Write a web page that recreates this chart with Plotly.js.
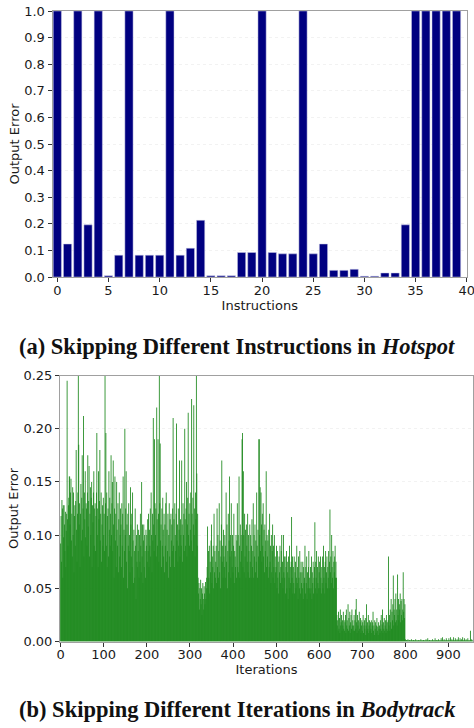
<!DOCTYPE html>
<html>
<head>
<meta charset="utf-8">
<script src="https://cdn.plot.ly/plotly-3.0.1.min.js"></script>
<style>html,body{margin:0;padding:0;background:#fff;}#chart{width:474px;height:728px;}</style>
</head>
<body>
<div id="chart"></div>
<script>
// (a) Hotspot: output error when skipping instruction i
const instructionIds = Array.from({length: 40}, (_, i) => i);
const hotspotError = [
  1.0, 0.124, 1.0, 0.196, 1.0, 0.005, 0.082, 1.0, 0.082, 0.082,
  0.082, 1.0, 0.082, 0.108, 0.213, 0.005, 0.005, 0.005, 0.092, 0.092,
  1.0, 0.092, 0.087, 0.087, 1.0, 0.087, 0.124, 0.025, 0.025, 0.029,
  0.003, 0.003, 0.015, 0.015, 0.196, 1.0, 1.0, 1.0, 1.0, 1.0
];
const hotspotXTicks = [0, 5, 10, 15, 20, 25, 30, 35, 40];

// (b) Bodytrack: output error when skipping iteration i
const bodytrackError = [
  .092,.118,.075,.133,.125,.06,.128,.098,.128,.11,.085,.122,.07,.104,.12,.245,.115,.09,.128,.135,
  .155,.155,.11,.14,.153,.095,.12,.08,.145,.1,.14,.065,.118,.128,.09,.132,.18,.105,.075,.12,
  .14,.25,.185,.11,.13,.07,.12,.148,.095,.135,.175,.105,.125,.212,.08,.14,.115,.16,.098,.13,
  .125,.09,.14,.175,.108,.132,.165,.08,.12,.145,.1,.135,.15,.07,.128,.112,.14,.16,.09,.125,
  .13,.085,.118,.14,.196,.1,.125,.07,.16,.115,.132,.18,.095,.12,.14,.075,.11,.128,.09,.135,
  .1,.12,.085,.25,.13,.196,.09,.14,.07,.118,.125,.08,.16,.105,.135,.09,.12,.175,.1,.13,
  .15,.085,.17,.11,.06,.125,.155,.095,.12,.07,.15,.105,.09,.13,.065,.115,.14,.08,.1,.125,
  .11,.07,.13,.09,.12,.155,.06,.105,.085,.2,.1,.125,.16,.075,.11,.05,.12,.09,.13,.085,
  .1,.065,.145,.11,.08,.12,.07,.14,.095,.055,.105,.085,.06,.125,.09,.04,.1,.075,.11,.07,
  .085,.105,.06,.1,.075,.12,.09,.065,.15,.08,.11,.055,.095,.11,.07,.1,.085,.06,.105,.09,
  .1,.075,.115,.085,.12,.07,.105,.09,.125,.08,.14,.1,.065,.12,.095,.21,.11,.085,.19,.13,
  .1,.125,.08,.22,.115,.09,.19,.12,.075,.25,.13,.186,.095,.11,.07,.125,.09,.135,.105,.08,
  .12,.065,.11,.09,.13,.14,.075,.105,.085,.12,.06,.1,.13,.08,.115,.07,.12,.095,.11,.085,
  .125,.21,.09,.115,.07,.13,.1,.085,.12,.205,.095,.11,.075,.125,.09,.105,.17,.08,.115,.1,
  .09,.17,.11,.075,.13,.1,.12,.085,.2,.115,.09,.125,.15,.08,.11,.135,.215,.1,.12,.09,
  .13,.105,.14,.095,.228,.12,.085,.135,.11,.222,.1,.125,.08,.14,.115,.25,.158,.09,.12,.06,
  .045,.055,.03,.05,.04,.058,.035,.05,.025,.045,.055,.04,.03,.052,.045,.035,.056,.04,.05,.06,
  .07,.108,.05,.085,.06,.09,.045,.075,.065,.095,.11,.055,.08,.07,.09,.05,.12,.065,.085,.06,
  .075,.09,.055,.125,.07,.1,.06,.085,.13,.065,.095,.05,.08,.11,.17,.075,.09,.06,.105,.08,
  .07,.1,.06,.09,.14,.075,.11,.05,.085,.12,.065,.095,.155,.08,.1,.06,.13,.085,.07,.1,
  .065,.09,.12,.055,.085,.08,.07,.1,.06,.095,.13,.07,.1,.065,.155,.09,.06,.11,.075,.1,
  .085,.19,.196,.07,.16,.1,.065,.12,.08,.105,.06,.11,.09,.075,.12,.065,.1,.085,.06,.11,
  .075,.1,.06,.09,.115,.07,.085,.13,.06,.1,.08,.11,.065,.095,.075,.14,.09,.06,.105,.08,
  .19,.19,.1,.145,.085,.14,.11,.075,.12,.09,.13,.08,.105,.065,.11,.085,.095,.16,.07,.1,
  .08,.095,.06,.105,.07,.12,.075,.09,.055,.1,.065,.085,.11,.06,.09,.07,.1,.055,.08,.065,
  .07,.09,.05,.085,.06,.075,.045,.08,.065,.09,.055,.07,.085,.1,.06,.075,.05,.1,.065,.08,
  .06,.08,.045,.07,.085,.05,.075,.065,.04,.08,.06,.09,.05,.07,.055,.075,.117,.06,.08,.045,
  .07,.055,.08,.045,.065,.075,.05,.06,.09,.055,.07,.04,.08,.06,.05,.085,.065,.045,.075,.055,
  .065,.05,.075,.04,.07,.055,.06,.09,.045,.07,.055,.08,.04,.065,.05,.07,.085,.05,.06,.045,
  .07,.05,.08,.04,.065,.055,.075,.045,.06,.07,.112,.05,.075,.06,.085,.045,.07,.055,.08,.05,
  .065,.075,.05,.08,.06,.045,.07,.055,.08,.05,.09,.06,.07,.045,.075,.085,.055,.065,.08,.05,
  .07,.06,.085,.05,.075,.124,.065,.08,.055,.1,.07,.06,.085,.05,.075,.065,.08,.09,.06,.075,
  .06,.025,.015,.02,.01,.028,.012,.022,.008,.03,.015,.018,.025,.01,.02,.015,.028,.012,.02,.01,
  .018,.025,.008,.03,.015,.02,.012,.035,.01,.022,.015,.028,.008,.018,.025,.012,.03,.015,.02,.01,
  .015,.025,.01,.02,.03,.012,.04,.018,.008,.025,.015,.02,.01,.028,.012,.018,.022,.008,.015,.02,
  .01,.018,.025,.008,.015,.02,.012,.022,.006,.015,.035,.01,.018,.012,.025,.008,.015,.02,.01,.018,
  .012,.02,.008,.015,.018,.028,.01,.015,.006,.02,.012,.018,.008,.015,.022,.01,.014,.006,.018,.012,
  .015,.008,.02,.012,.025,.01,.016,.03,.008,.018,.012,.022,.01,.015,.02,.008,.025,.012,.018,.01,
  .02,.08,.015,.025,.01,.03,.018,.04,.012,.028,.02,.035,.062,.015,.03,.025,.04,.018,.045,.02,
  .03,.015,.063,.025,.04,.02,.035,.03,.045,.018,.038,.025,.04,.02,.03,.065,.028,.04,.022,.035,
  .002,.001,.001,.0015,.001,.001,.002,.001,.001,.001,.0015,.001,.001,.001,.002,.001,.001,.001,.001,.0015,
  .001,.001,.001,.001,.002,.001,.001,.001,.001,.001,.001,.0015,.001,.001,.001,.001,.002,.001,.001,.001,
  .001,.001,.0015,.001,.001,.001,.001,.001,.002,.001,.001,.001,.003,.001,.001,.001,.0015,.001,.001,.001,
  .001,.001,.001,.002,.001,.001,.001,.001,.001,.003,.001,.001,.001,.0015,.001,.001,.001,.002,.001,.001,
  .001,.001,.001,.003,.001,.001,.004,.001,.001,.001,.002,.001,.001,.001,.001,.003,.001,.001,.001,.001,
  .001,.003,.001,.001,.001,.004,.001,.001,.002,.001,.001,.001,.004,.001,.001,.001,.003,.001,.001,.001,
  .002,.001,.001,.004,.001,.001,.001,.003,.001,.001,.002,.001,.001,.004,.001,.001,.001,.003,.001,.001,
  .001,.002,.001,.001,.001,.003,.001,.001,.001,.001,.001,.01,.001,.001,.002,.001,.001
];
const iterationIds = bodytrackError.map((_, i) => i);
const bodytrackXTicks = [0, 100, 200, 300, 400, 500, 600, 700, 800, 900];

const captionA = '(a) Skipping Different Instructions in <i>Hotspot</i>';
const captionB = '(b) Skipping Different Iterations in <i>Bodytrack</i>';

const W = 474, H = 728;
const px = v => v / W;
const py = v => 1 - v / H;

const axisCommon = {
  showline: true, mirror: true, linecolor: '#a0a0a0', linewidth: 1,
  ticks: 'outside', ticklen: 4, tickwidth: 1, tickcolor: '#333',
  zeroline: false, ticklabeloverflow: 'allow',
  tickfont: {family: 'DejaVu Sans', size: 13, color: '#1a1a1a'}
};

const traces = [
  {
    type: 'bar', x: instructionIds, y: hotspotError, width: 0.8,
    marker: {color: '#000080', line: {color: '#c8c8e6', width: 0.5}},
    xaxis: 'x', yaxis: 'y', hoverinfo: 'x+y'
  },
  {
    type: 'bar', x: iterationIds, y: bodytrackError, width: 2.0,
    marker: {color: '#1f8a1f', line: {width: 0}},
    xaxis: 'x2', yaxis: 'y2', hoverinfo: 'x+y'
  }
];

const layout = {
  width: W, height: H,
  margin: {l: 0, r: 0, t: 0, b: 0},
  paper_bgcolor: '#fff', plot_bgcolor: '#fff',
  showlegend: false,
  barmode: 'overlay',
  font: {family: 'DejaVu Sans', size: 13, color: '#1a1a1a'},
  xaxis: Object.assign({}, axisCommon, {
    domain: [px(52.5), px(467)], anchor: 'y',
    range: [-0.47, 40.02], tickvals: hotspotXTicks, showgrid: false,
    ticklabelstandoff: -3,
    title: {text: 'Instructions', font: {size: 13}, standoff: 0}
  }),
  yaxis: Object.assign({}, axisCommon, {
    domain: [py(277), py(11)], anchor: 'x',
    range: [0, 1], dtick: 0.1, tickformat: '.1f',
    showgrid: true, gridcolor: 'rgba(0,0,0,0.05)', griddash: 'dot',
    title: {text: 'Output Error', font: {size: 13}, standoff: 1}
  }),
  xaxis2: Object.assign({}, axisCommon, {
    domain: [px(60), px(473)], anchor: 'y2',
    range: [-1.5, 957], tickvals: bodytrackXTicks, showgrid: false,
    ticklabelstandoff: -3,
    title: {text: 'Iterations', font: {size: 13}, standoff: 0}
  }),
  yaxis2: Object.assign({}, axisCommon, {
    domain: [py(641.5), py(375.5)], anchor: 'x2',
    range: [0, 0.25], dtick: 0.05, tickformat: '.2f',
    showgrid: true, gridcolor: 'rgba(0,0,0,0.05)', griddash: 'dot',
    title: {text: 'Output Error', font: {size: 13}, standoff: 1}
  }),
  annotations: [
    {text: captionA, xref: 'paper', yref: 'paper', x: 0.5, y: py(346),
     xanchor: 'center', yanchor: 'middle', showarrow: false,
     font: {family: 'Liberation Serif', size: 22.5, color: '#111', weight: 'bold'}},
    {text: captionB, xref: 'paper', yref: 'paper', x: 0.5, y: py(709),
     xanchor: 'center', yanchor: 'middle', showarrow: false,
     font: {family: 'Liberation Serif', size: 22.5, color: '#111', weight: 'bold'}}
  ]
};

Plotly.newPlot('chart', traces, layout, {staticPlot: true, displayModeBar: false});
</script>
</body>
</html>
